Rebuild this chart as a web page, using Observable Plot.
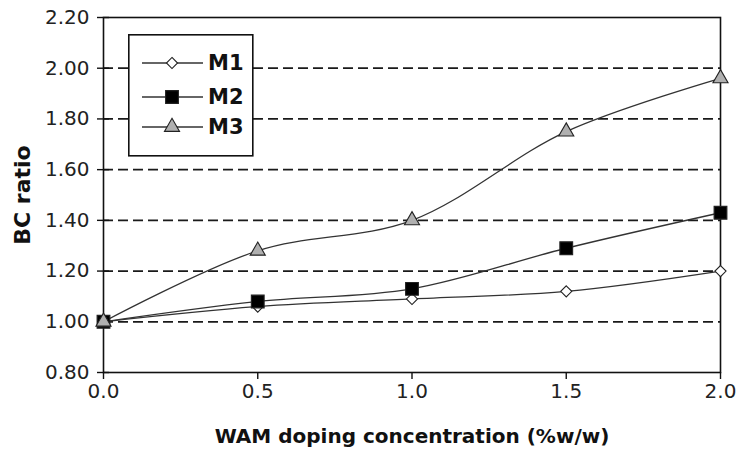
<!DOCTYPE html>
<html><head><meta charset="utf-8">
<script src="https://cdn.jsdelivr.net/npm/d3@7"></script>
<script src="https://cdn.jsdelivr.net/npm/@observablehq/plot@0.6"></script>
<style>
body{margin:0;background:#fff;}
#wrap{position:relative;width:736px;height:452px;overflow:hidden;}
#legend{position:absolute;left:128px;top:34px;}
</style></head><body>
<div id="wrap"><div id="chart"></div><svg id="legend" width="127" height="123"></svg></div>
<script>
const concentrations = [0, 0.5, 1.0, 1.5, 2.0];
const seriesNames = ["M1", "M2", "M3"];
const m1 = [1.00, 1.06, 1.09, 1.12, 1.20];
const m2 = [1.00, 1.08, 1.13, 1.29, 1.43];
const m3 = [1.00, 1.28, 1.40, 1.75, 1.96];
const xTicks = [0, 0.5, 1.0, 1.5, 2.0];
const yTicks = [0.8, 1.0, 1.2, 1.4, 1.6, 1.8, 2.0, 2.2];
const gridValues = [1.0, 1.2, 1.4, 1.6, 1.8, 2.0];
const xTitle = "WAM doping concentration (%w/w)";
const yTitle = "BC ratio";

const symbols = {M1: "diamond2", M2: "square", M3: "triangle"};
const fills = {M1: "#ffffff", M2: "#000000", M3: "#b0b0b0"};
const radii = {M1: 5, M2: 7.2, M3: 5.6};

const seriesValues = [m1, m2, m3];
const data = seriesNames.flatMap((s, i) => concentrations.map((c, j) => ({series: s, x: c, y: seriesValues[i][j]})));

const font = "DejaVu Sans, Arial, sans-serif";
const chart = Plot.plot({
  width: 736, height: 452,
  marginLeft: 103, marginRight: 16, marginTop: 17, marginBottom: 80,
  style: {fontFamily: font, fontSize: "20px", color: "#222", background: "#fff"},
  x: {domain: [0, 2], label: null},
  y: {domain: [0.8, 2.2], label: null},
  marks: [
    Plot.ruleY(gridValues, {stroke: "#1a1a1a", strokeDasharray: "10,5", strokeWidth: 1.8}),
    Plot.frame({stroke: "#111", strokeWidth: 1.6}),
    Plot.axisY({ticks: yTicks, tickFormat: d3.format(".2f"), tickSize: 6, tickPadding: 8, label: null, stroke: "#111", strokeWidth: 1.4}),
    Plot.axisY({ticks: yTicks, tickSize: -6, text: null, label: null, stroke: "#111", strokeWidth: 1.4}),
    Plot.axisY({ticks: [], label: yTitle, labelAnchor: "center", labelArrow: "none", labelOffset: 89, fontSize: 22, fontWeight: "bold", fill: "#111"}),
    Plot.axisX({ticks: xTicks, tickFormat: d3.format(".1f"), tickSize: 7, tickPadding: 4, label: null, stroke: "#111", strokeWidth: 1.4}),
    Plot.axisX({ticks: [], label: xTitle, labelAnchor: "center", labelArrow: "none", labelOffset: 70, fontSize: 20, fontWeight: "bold", fill: "#111"}),
    Plot.line(data, {x: "x", y: "y", z: "series", curve: "catmull-rom", stroke: "#333", strokeWidth: 1.3}),
    ...seriesNames.map(s => Plot.dot(data.filter(d => d.series === s), {
      x: "x", y: "y", symbol: () => symbols[s], r: radii[s], fill: fills[s], stroke: "#222", strokeWidth: 1.1
    }))
  ]
});
document.getElementById("chart").appendChild(chart);

// Legend
const lg = d3.select("#legend");
lg.append("rect").attr("x", 0.8).attr("y", 0.8).attr("width", 124).attr("height", 121)
  .attr("fill", "#fff").attr("stroke", "#111").attr("stroke-width", 1.6);
const symMap = {diamond2: d3.symbolDiamond2, square: d3.symbolSquare, triangle: d3.symbolTriangle};
const rowY = [29, 63, 93];
seriesNames.forEach((s, i) => {
  const g = lg.append("g").attr("transform", `translate(0,${rowY[i]})`);
  g.append("line").attr("x1", 14).attr("x2", 75).attr("stroke", "#333").attr("stroke-width", 1.3);
  g.append("path").attr("transform", "translate(44,0)")
    .attr("d", d3.symbol(symMap[symbols[s]], Math.PI * radii[s] * radii[s])())
    .attr("fill", fills[s]).attr("stroke", "#222").attr("stroke-width", 1.1);
  g.append("text").attr("x", 80).attr("dy", "0.35em").attr("font-family", font)
    .attr("font-size", 21).attr("font-weight", "bold").attr("fill", "#111").text(s);
});
</script>
</body></html>
